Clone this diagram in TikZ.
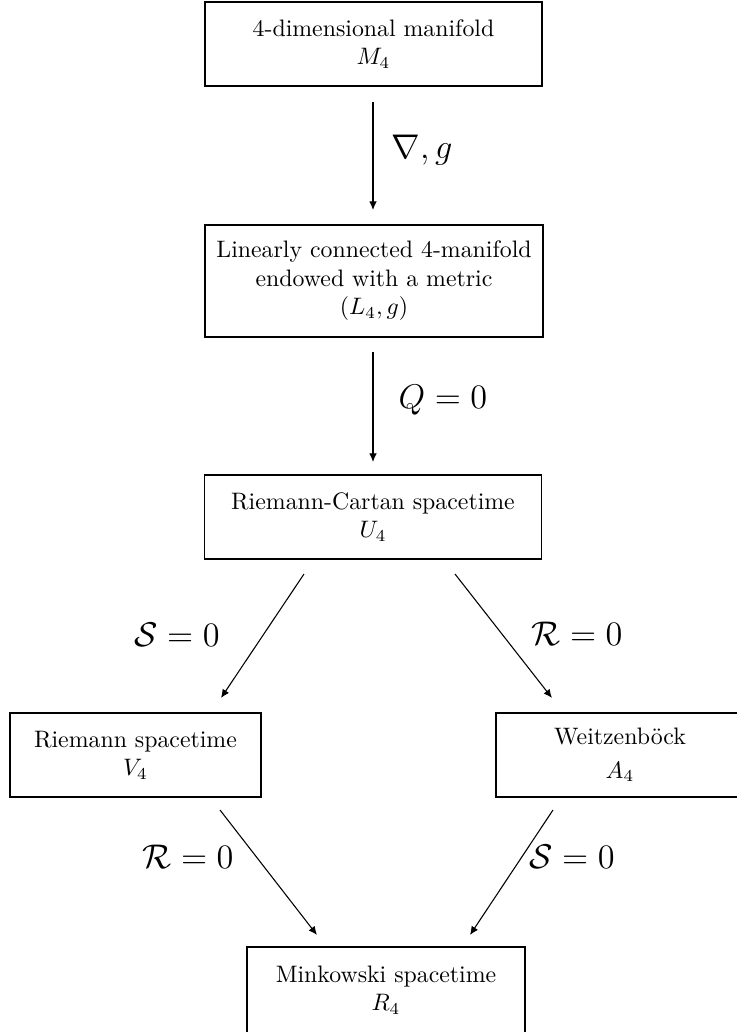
\documentclass[tikz,border=0pt]{standalone}
\usetikzlibrary{arrows.meta}
\begin{document}
\begin{tikzpicture}[x=0.42pt,y=-0.42pt,
  box/.style={draw, line width=0.6pt, align=center, inner sep=0pt, minimum height=35.3pt},
  arr/.style={-{Latex[length=3.6pt,width=3.2pt]}, line width=0.45pt},
  lab/.style={font=\Large, inner sep=1pt}]
\useasboundingbox (0,0) rectangle (737,1032);
\clip (0,0) rectangle (737,1032);
% boxes
\node[box, minimum width=141.5pt] (m4) at (373.5,44) {4-dimensional manifold\\$M_4$};
\node[box, minimum width=142pt, minimum height=47pt] (l4) at (374,281) {Linearly connected 4-manifold\\endowed with a metric\\$(L_4,g)$};
\node[box, minimum width=141.5pt] (u4) at (373,517) {Riemann-Cartan spacetime\\$U_4$};
\node[box, minimum width=105.4pt] (v4) at (135.5,755) {Riemann spacetime\\$V_4$};
\node[box, minimum width=104pt] (a4) at (620,755) {Weitzenb\"ock\\[2pt]$A_4$};
\node[box, minimum width=116.8pt, minimum height=36pt] (r4) at (386,990) {Minkowski spacetime\\$R_4$};
% connector end points
\coordinate (p1s) at (373,102); \coordinate (p1e) at (373,210);
\coordinate (p2s) at (373,352); \coordinate (p2e) at (373,462);
\coordinate (p3s) at (304,574); \coordinate (p3e) at (221,698);
\coordinate (p4s) at (455,574); \coordinate (p4e) at (552,698);
\coordinate (p5s) at (220,810); \coordinate (p5e) at (317,935);
\coordinate (p6s) at (553,810); \coordinate (p6e) at (470,935);
% connectors
\draw[arr] (p1s) -- (p1e);
\draw[arr] (p2s) -- (p2e);
\draw[arr] (p3s) -- (p3e);
\draw[arr] (p4s) -- (p4e);
\draw[arr] (p5s) -- (p5e);
\draw[arr] (p6s) -- (p6e);
% labels
\node[lab] (t1) at (422,150) {$\nabla, g$};
\node[lab] (t2) at (443,400) {$Q=0$};
\node[lab] (t3) at (177,635) {$\mathcal{S}=0$};
\node[lab] (t4) at (577,634) {$\mathcal{R}=0$};
\node[lab] (t5) at (188,857) {$\mathcal{R}=0$};
\node[lab] (t6) at (572,857) {$\mathcal{S}=0$};
\end{tikzpicture}
\end{document}
